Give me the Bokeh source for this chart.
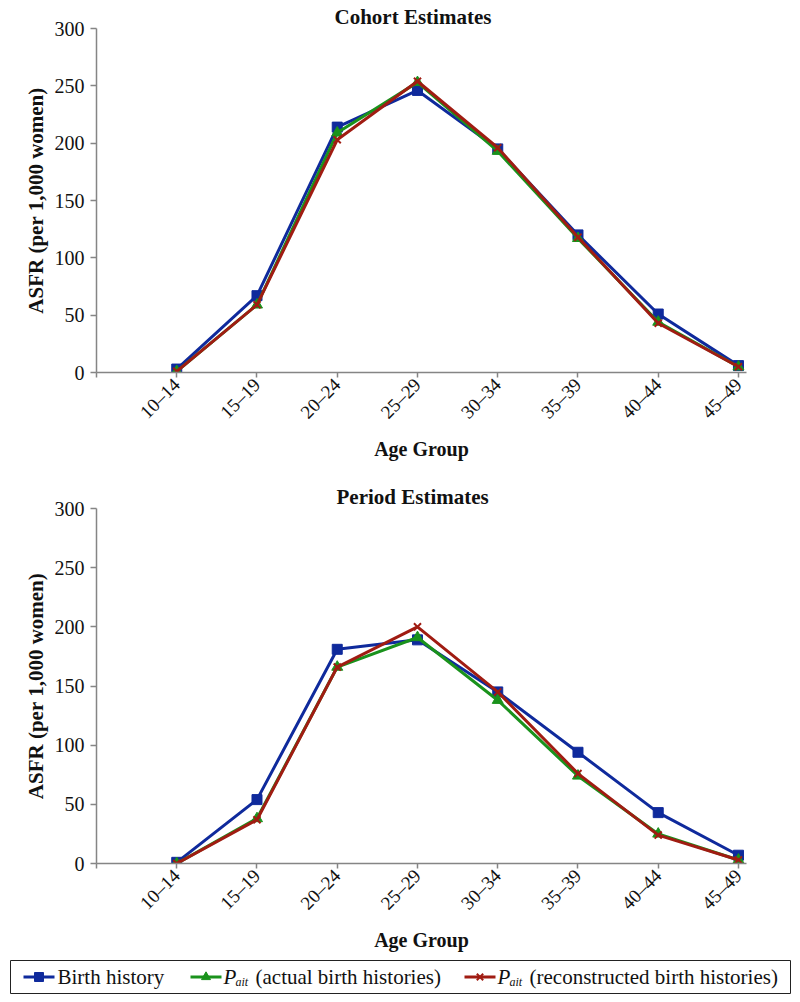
import math
from bokeh.plotting import figure
from bokeh.models import Range1d, FixedTicker, ColumnDataSource
from bokeh.layouts import column, row
from bokeh.embed import file_html
from bokeh.resources import INLINE
from bokeh.core.properties import value

# ---------------- data ----------------
age_groups = ["10–14", "15–19", "20–24", "25–29", "30–34", "35–39", "40–44", "45–49"]

cohort_birth_history = [3, 67, 214, 246, 195, 120, 51, 6]
cohort_pait_actual = [1, 59, 209, 253, 193, 117, 44, 5]
cohort_pait_reconstructed = [1, 59, 203, 254, 196, 118, 43, 5]

period_birth_history = [1, 54, 181, 189, 145, 94, 43, 7]
period_pait_actual = [0, 38, 166, 191, 138, 74, 25, 3]
period_pait_reconstructed = [0, 37, 166, 200, 145, 76, 24, 3]

y_ticks = [0, 50, 100, 150, 200, 250, 300]
series_names = ["Birth history", "(actual birth histories)", "(reconstructed birth histories)"]
panel_titles = ["Cohort Estimates", "Period Estimates"]
x_title = "Age Group"
y_title = "ASFR (per 1,000 women)"

# ---------------- style ----------------
FONT = "Liberation Serif"
BLUE = "#0f2a9c"
GREEN = "#1a921c"
RED = "#a01c12"
AXIS = "#858585"
TXT = "#111111"
W = 800


def no_frame_align(p):
    if "frame_align" in p.properties():
        p.frame_align = False


def make_panel(title, bh, act, rec, height, top, bottom, title_offset):
    xs = list(range(1, len(age_groups) + 1))
    src = ColumnDataSource(dict(x=xs, bh=bh, act=act, rec=rec))
    p = figure(width=W, height=height, output_backend="svg", toolbar_location=None,
               x_range=Range1d(0, 8.1), y_range=Range1d(0, 300),
               min_border_left=96, min_border_right=54,
               min_border_top=top, min_border_bottom=bottom)
    no_frame_align(p)
    p.outline_line_color = None
    p.grid.visible = False
    p.background_fill_color = "white"
    p.border_fill_color = "white"

    p.title.text = title
    p.title.align = "left"
    p.title.offset = title_offset
    p.title.standoff = 0
    p.title.text_font = FONT
    p.title.text_font_style = "bold"
    p.title.text_font_size = "21px"
    p.title.text_color = TXT

    p.line("x", "bh", source=src, line_color=BLUE, line_width=3)
    p.scatter("x", "bh", source=src, marker="square", size=10,
              fill_color=BLUE, line_color=BLUE)
    p.line("x", "act", source=src, line_color=GREEN, line_width=3)
    p.scatter("x", "act", source=src, marker="triangle", size=11,
              fill_color=GREEN, line_color=GREEN)
    p.line("x", "rec", source=src, line_color=RED, line_width=3)
    p.scatter("x", "rec", source=src, marker="x", size=10,
              line_color=RED, line_width=2)

    # x axis
    xa = p.xaxis[0]
    xa.ticker = FixedTicker(ticks=list(range(0, len(age_groups) + 1)))
    ov = {0: ""}
    for i, lab in enumerate(age_groups):
        ov[i + 1] = lab
    xa.major_label_overrides = ov
    xa.major_label_orientation = math.pi / 4
    xa.major_label_standoff = 4
    xa.minor_tick_line_color = None
    xa.major_tick_in = 0
    xa.major_tick_out = 5
    xa.axis_line_color = AXIS
    xa.axis_line_width = 1.5
    xa.major_tick_line_color = AXIS
    xa.major_tick_line_width = 1.5
    xa.major_label_text_font = FONT
    xa.major_label_text_font_size = "19px"
    xa.major_label_text_color = TXT
    xa.axis_label = x_title
    xa.axis_label_text_font = FONT
    xa.axis_label_text_font_style = "bold"
    xa.axis_label_text_font_size = "20px"
    xa.axis_label_text_color = TXT
    xa.axis_label_standoff = 5

    # y axis
    ya = p.yaxis[0]
    ya.ticker = FixedTicker(ticks=y_ticks)
    ya.minor_tick_line_color = None
    ya.major_tick_in = 0
    ya.major_tick_out = 6
    ya.axis_line_color = AXIS
    ya.axis_line_width = 1.5
    ya.major_tick_line_color = AXIS
    ya.major_tick_line_width = 1.5
    ya.major_label_text_font = FONT
    ya.major_label_text_font_size = "20px"
    ya.major_label_text_color = TXT
    ya.major_label_standoff = 6
    ya.axis_label = y_title
    ya.axis_label_text_font = FONT
    ya.axis_label_text_font_style = "bold"
    ya.axis_label_text_font_size = "21px"
    ya.axis_label_text_color = TXT
    ya.axis_label_standoff = 4
    return p


p1 = make_panel(panel_titles[0], cohort_birth_history, cohort_pait_actual,
                cohort_pait_reconstructed, 478, 28, 106, 238)
p2 = make_panel(panel_titles[1], period_birth_history, period_pait_actual,
                period_pait_reconstructed, 478, 30, 93, 240)

# ---------------- legend ----------------
LH = 46
lg = figure(width=W, height=LH, output_backend="svg", toolbar_location=None,
            x_range=Range1d(0, W), y_range=Range1d(0, LH), min_border=0)
no_frame_align(lg)
lg.axis.visible = False
lg.grid.visible = False
lg.outline_line_color = None
lg.quad(left=[10], right=[790], bottom=[LH - 37], top=[LH - 4], fill_color=None,
        line_color="#222222", line_width=1)

ymid = LH - 20.5
colors = [BLUE, GREEN, RED]
markers = ["square", "triangle", "x"]
sample_left = [23, 190, 464]
sample_w = 31
for i in range(3):
    x0 = sample_left[i]
    lg.line([x0, x0 + sample_w], [ymid, ymid], line_color=colors[i], line_width=3)
    if markers[i] == "x":
        lg.scatter([x0 + sample_w / 2], [ymid], marker="x", size=9,
                   line_color=colors[i], line_width=2)
    else:
        lg.scatter([x0 + sample_w / 2], [ymid], marker=markers[i], size=9,
                   fill_color=colors[i], line_color=colors[i])

lg.text([57], [ymid], text=[series_names[0]], text_font=value(FONT),
        text_font_size="21px", text_baseline="middle", text_align="left",
        text_color=TXT)
for px, name in [(223, series_names[1]), (497, series_names[2])]:
    lg.text([px], [ymid], text=["P"], text_font=value(FONT), text_font_style="italic",
            text_font_size="21px", text_baseline="middle", text_align="left",
            text_color=TXT)
    lg.text([px + 12], [ymid - 5], text=["ait"], text_font=value(FONT),
            text_font_style="italic", text_font_size="12px", text_baseline="middle",
            text_align="left", text_color=TXT)
    lg.text([px + 32], [ymid], text=[name], text_font=value(FONT),
            text_font_size="21px", text_baseline="middle", text_align="left",
            text_color=TXT)

layout = column(column(p1, p2, spacing=0), row(lg), spacing=0)
open("out.html", "w").write(file_html(layout, INLINE))
